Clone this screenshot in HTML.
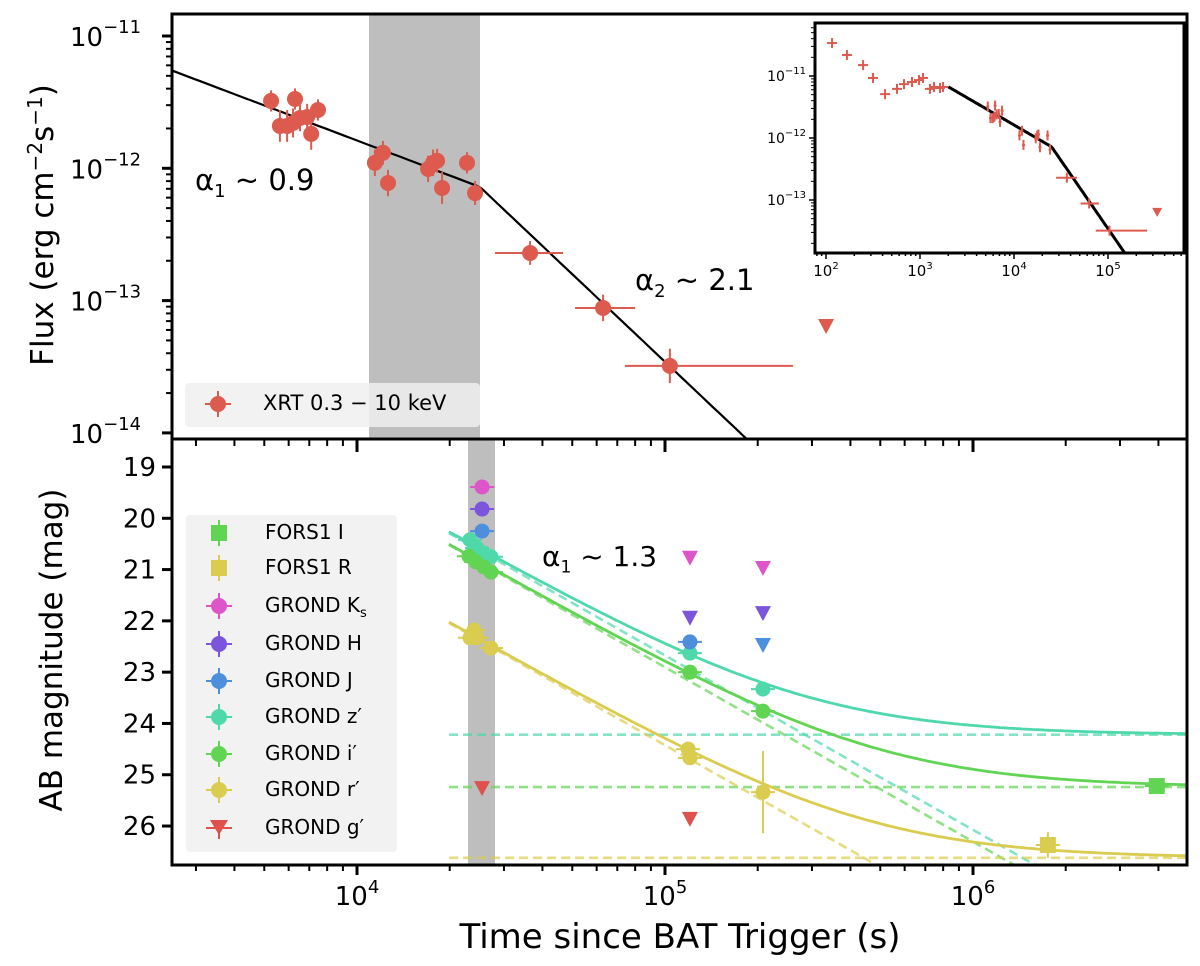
<!DOCTYPE html>
<html><head><meta charset="utf-8"><style>
html,body{margin:0;padding:0;background:#fff;width:1200px;height:966px;overflow:hidden;position:relative}
svg{display:block;font-family:"DejaVu Sans","Liberation Sans",sans-serif}
#c{position:absolute;left:0;top:0}
.lm{position:absolute;left:0;top:0;width:18px;height:22px}
.lm .h{position:absolute;left:-4px;top:10px;width:26px;height:2px}
.lm .v{position:absolute;left:8px;top:-2px;width:2px;height:26px}
.lm .c{position:absolute;left:1px;top:3px;width:16px;height:16px;border-radius:50%}
.lm .s{position:absolute;left:1px;top:3px;width:16px;height:16px}
</style></head><body>
<svg id="c" width="1200" height="966" viewBox="0 0 1200 966">
<defs>
<clipPath id="cpTop"><rect x="172" y="14" width="1015" height="425"/></clipPath>
<clipPath id="cpBot"><rect x="172" y="440" width="1015" height="425"/></clipPath>
<clipPath id="cpIn"><rect x="815" y="23" width="369" height="230"/></clipPath>
</defs>
</svg>
<script>
// ---- X-ray data (top panel) ----
const xrtTime=[5260,5620,5930,6200,6290,6530,6890,7100,7470,11430,12140,12610,17020,17660,18200,18890,22760,24170];
const xrtFlux=[3.23e-12,2.09e-12,2.09e-12,2.20e-12,3.34e-12,2.40e-12,2.44e-12,1.82e-12,2.76e-12,1.10e-12,1.31e-12,7.74e-13,9.89e-13,1.10e-12,1.14e-12,7.10e-13,1.10e-12,6.50e-13];
const xrtErr=[0.08,0.12,0.12,0.11,0.08,0.1,0.1,0.12,0.08,0.1,0.09,0.1,0.1,0.1,0.09,0.12,0.08,0.09];
const xrtLateTime=[36480,62950,103700];
const xrtLateFlux=[2.29e-13,8.8e-14,3.21e-14];
const xrtLateLo=[28050,51050,74130];
const xrtLateHi=[46670,79980,260600];
const xrtLateErr=[0.09,0.1,0.13];
const xrtUL=[[333400,6.43e-14]];
const earlyTime=[116,167,248,316,425,569,676,822,975,1076,1277,1409,1633,1758];
const earlyFlux=[3.4e-11,2.18e-11,1.5e-11,9.3e-12,5.1e-12,6.2e-12,7.4e-12,8.0e-12,8.6e-12,9.3e-12,6.2e-12,6.65e-12,6.4e-12,6.65e-12];
// broken power law params
const tBreak=25070, fBreak=7.23e-13, alpha1=0.88, alpha2=2.2;
const topTicks=[-11,-12,-13,-14];
// ---- optical data (bottom panel) ----
const colors={Ks:'#dd55c8',H:'#7c55dd',J:'#4d8fdd',z:'#4fd9ab',i:'#62d454',r:'#d9cc4f',g:'#dd524d'};
const ksT=[25470], ksM=[19.39];
const hT=[25470], hM=[19.82];
const jT=[25470,120500], jM=[20.25,22.41];
const zT=[23270,24530,25840,27230,120500,208000], zM=[20.42,20.58,20.68,20.75,22.63,23.33];
const iT=[23100,24350,25840,27230,120500,208000], iM=[20.74,20.85,20.95,21.05,23.0,23.76];
const rT=[23270,23990,24530,27230,118900,120500,208000], rM=[22.33,22.18,22.33,22.53,24.5,24.67,25.34];
const rErr=[0.1,0.12,0.1,0.08,0.12,0.12,0.8];
const forsIT=[3950000], forsIM=[25.22];
const forsRT=[1750000], forsRM=[26.37];
const ulKsT=[120500,208000], ulKsM=[20.77,20.97];
const ulHT=[120500,208000], ulHM=[21.94,21.85];
const ulJT=[208000], ulJM=[22.47];
const ulGT=[25470,120500], ulGM=[25.26,25.86];
const optAlpha=1.36, optT0=19900;
const plZ=20.29, plI=20.52, plR=22.04;
const hostZ=24.22, hostI=25.24, hostR=26.62;
const magTicks=[19,20,21,22,23,24,25,26];

const svg=document.getElementById('c');
const NS='http://www.w3.org/2000/svg';
function el(tag,attrs,parent){const e=document.createElementNS(NS,tag);for(const k in attrs)e.setAttribute(k,attrs[k]);(parent||svg).appendChild(e);return e;}
const L=Math.log10;
const xl=t=>357+(L(t)-4)*308;
const yT=f=>36+(-11-L(f))*132.3;
const yB=m=>467+(m-19)*51.29;
const xi=t=>826+(L(t)-2)*94;
const yi=f=>76+(-11-L(f))*62;
const bpl=t=>t<tBreak?fBreak*Math.pow(t/tBreak,-alpha1):fBreak*Math.pow(t/tBreak,-alpha2);

let s=el('rect',{x:369,y:14,width:111,height:425,fill:'#bebebe'});


s=el('rect',{x:468,y:440,width:27,height:425,fill:'#bebebe'});



const gTop=el('g',{'clip-path':'url(#cpTop)'});


let d='';for(let i=0;i<=200;i++){const lt=3.3+i*(3.4/200);const t=Math.pow(10,lt);const yy=yT(bpl(t));d+=(i?'L':'M')+xl(t).toFixed(1)+' '+yy.toFixed(1);if(yy>445)break;}
let ln=el('path',{d:d,fill:'none',stroke:'#000','stroke-width':2.2},gTop);


const red='#dd5a4e';
function errPt(g,x,y,ylo,yhi,xlo,xhi,r,col,name){
  const grp=el('g',{},g);
  
  
  el('line',{x1:x,x2:x,y1:ylo,y2:yhi,stroke:col,'stroke-width':2},grp);
  if(xlo!==null)el('line',{x1:xlo,x2:xhi,y1:y,y2:y,stroke:col,'stroke-width':2},grp);
  if(r>0)el('circle',{cx:x,cy:y,r:r,fill:col},grp);
}
xrtTime.forEach((t,i)=>{const x=xl(t),y=yT(xrtFlux[i]);const e=xrtErr[i];errPt(gTop,x,y,yT(xrtFlux[i]*Math.pow(10,e)),yT(xrtFlux[i]*Math.pow(10,-e)),null,null,8,red,'xrt-point');});
xrtLateTime.forEach((t,i)=>{const x=xl(t),y=yT(xrtLateFlux[i]);const e=xrtLateErr[i];errPt(gTop,x,y,yT(xrtLateFlux[i]*Math.pow(10,e)),yT(xrtLateFlux[i]*Math.pow(10,-e)),xl(xrtLateLo[i]),xl(xrtLateHi[i]),8,red,'xrt-point');});
xrtUL.forEach(p=>{const x=xl(p[0]),y=yT(p[1]);const tr=el('path',{d:`M${x-8} ${y-7}L${x+8} ${y-7}L${x} ${y+8}Z`,fill:red},gTop);});

const gBot=el('g',{'clip-path':'url(#cpBot)'});


const pl=(m0,t)=>m0+2.5*optAlpha*L(t/optT0);
const comb=(m0,h,t)=>-2.5*L(Math.pow(10,-0.4*pl(m0,t))+Math.pow(10,-0.4*h));
[[plZ,hostZ,colors.z,'z'],[plI,hostI,colors.i,'i'],[plR,hostR,colors.r,'r']].forEach(([m0,h,c,n])=>{
  const x0=xl(optT0);
  let hl=el('line',{x1:x0,x2:1187,y1:yB(h),y2:yB(h),stroke:c,'stroke-width':2.6,'stroke-dasharray':'9 5',opacity:0.7},gBot);
  
  
  let dp='',ds='',stopP=false;
  for(let i=0;i<=200;i++){const lt=L(optT0)+i*(6.75-L(optT0))/200;const t=Math.pow(10,lt);
    if(!stopP){const yp=yB(pl(m0,t));dp+=(i?'L':'M')+xl(t).toFixed(1)+' '+yp.toFixed(1);if(yp>870)stopP=true;}
    ds+=(i?'L':'M')+xl(t).toFixed(1)+' '+yB(comb(m0,h,t)).toFixed(1);}
  let p1=el('path',{d:dp,fill:'none',stroke:c,'stroke-width':2.6,'stroke-dasharray':'9 5',opacity:0.7},gBot);
  
  
  let p2=el('path',{d:ds,fill:'none',stroke:c,'stroke-width':2.8},gBot);
  
  
});
function tri(g,x,y,c,name){const t=el('path',{d:`M${x-8} ${y-7}L${x+8} ${y-7}L${x} ${y+8}Z`,fill:c},g);}
function pts(T,M,c,name,err,sq){T.forEach((t,i)=>{const x=xl(t),y=yB(M[i]);const e=err?err[i]:0.08;
  const grp=el('g',{},gBot);
  el('line',{x1:x,x2:x,y1:yB(M[i]-e),y2:yB(M[i]+e),stroke:c,'stroke-width':2},grp);
  el('line',{x1:x-12,x2:x+12,y1:y,y2:y,stroke:c,'stroke-width':2},grp);
  if(sq)el('rect',{x:x-8,y:y-8,width:16,height:16,fill:c},grp);else el('circle',{cx:x,cy:y,r:7.5,fill:c},grp);});}
pts(zT,zM,colors.z,'z-point');
pts(iT,iM,colors.i,'i-point');
pts(rT,rM,colors.r,'r-point',rErr);
pts(jT,jM,colors.J,'j-point');
pts(hT,hM,colors.H,'h-point');
pts(ksT,ksM,colors.Ks,'ks-point');
pts(forsIT,forsIM,colors.i,'fors-i-point',[0.1],true);
pts(forsRT,forsRM,colors.r,'fors-r-point',[0.25],true);
ulKsT.forEach((t,i)=>tri(gBot,xl(t),yB(ulKsM[i]),colors.Ks,'ks-upper-limit'));
ulHT.forEach((t,i)=>tri(gBot,xl(t),yB(ulHM[i]),colors.H,'h-upper-limit'));
ulJT.forEach((t,i)=>tri(gBot,xl(t),yB(ulJM[i]),colors.J,'j-upper-limit'));
ulGT.forEach((t,i)=>tri(gBot,xl(t),yB(ulGM[i]),colors.g,'g-upper-limit'));

let f=el('rect',{x:172,y:14,width:1015,height:425,fill:'none',stroke:'#000','stroke-width':3});

f=el('rect',{x:172,y:439,width:1015,height:426,fill:'none',stroke:'#000','stroke-width':3});


for(let dec=3;dec<=6;dec++)for(let k=1;k<=9;k++){const t=k*Math.pow(10,dec);const x=xl(t);if(x<173||x>1186)continue;const maj=k===1;
  const a=el('line',{x1:x,x2:x,y1:865,y2:865+(maj?10:6),stroke:'#000','stroke-width':maj?3:2});
  const b=el('line',{x1:x,x2:x,y1:440,y2:440+(maj?12:6),stroke:'#000','stroke-width':maj?3:2});
  if(maj){const tx=el('text',{x:x,y:905,'font-size':26,'text-anchor':'middle'});tx.innerHTML=`10<tspan dy="-12" font-size="18">${dec}</tspan>`;}}
for(let dec=-15;dec<=-11;dec++)for(let k=1;k<=9;k++){const v=k*Math.pow(10,dec);const y=yT(v);if(y<15||y>438)continue;const maj=k===1;
  const a=el('line',{x1:172,x2:172-(maj?10:6),y1:y,y2:y,stroke:'#000','stroke-width':maj?3:2});}
topTicks.forEach(p=>{const y=yT(Math.pow(10,p));const tx=el('text',{x:70,y:y+10,'font-size':26});tx.innerHTML=`10<tspan dy="-13" font-size="18">${p<0?'−':''}${Math.abs(p)}</tspan>`;});
magTicks.forEach(m=>{const y=yB(m);const a=el('line',{x1:172,x2:162,y1:y,y2:y,stroke:'#000','stroke-width':3});
  const tx=el('text',{x:156,y:y+9,'font-size':26,'text-anchor':'end'});tx.textContent=m;});

const gIn=el('g',{});
el('rect',{x:815,y:23,width:369,height:230,fill:'#fff',stroke:'#000','stroke-width':3},gIn);
const gInC=el('g',{'clip-path':'url(#cpIn)'},gIn);
let di='';for(let i=0;i<=150;i++){const lt=L(2000)+i*(5.4-L(2000))/150;const t=Math.pow(10,lt);const yy=yi(bpl(t));di+=(i?'L':'M')+xi(t).toFixed(1)+' '+yy.toFixed(1);if(yy>258)break;}
let il=el('path',{d:di,fill:'none',stroke:'#000','stroke-width':3},gInC);
function inPt(t,fv,dx,dy){const x=xi(t),y=yi(fv);const g=el('g',{},gInC);
  el('line',{x1:x-dx,x2:x+dx,y1:y,y2:y,stroke:red,'stroke-width':2},g);el('line',{x1:x,x2:x,y1:y-dy,y2:y+dy,stroke:red,'stroke-width':2},g);}
earlyTime.forEach((t,i)=>inPt(t,earlyFlux[i],5,5));
xrtTime.forEach((t,i)=>inPt(t,xrtFlux[i],1.5,5));
xrtLateTime.forEach((t,i)=>{const x=xi(t),y=yi(xrtLateFlux[i]);const g=el('g',{},gInC);
  el('line',{x1:xi(xrtLateLo[i]),x2:xi(xrtLateHi[i]),y1:y,y2:y,stroke:red,'stroke-width':2},g);el('line',{x1:x,x2:x,y1:y-5,y2:y+5,stroke:red,'stroke-width':2},g);});
xrtUL.forEach(p=>{const x=xi(p[0]),y=yi(p[1]);const t=el('path',{d:`M${x-5} ${y-4}L${x+5} ${y-4}L${x} ${y+5}Z`,fill:red},gInC);});
for(let dec=1;dec<=5;dec++)for(let k=1;k<=9;k++){const t=k*Math.pow(10,dec);const x=xi(t);if(x<816||x>1183)continue;const maj=k===1;
  el('line',{x1:x,x2:x,y1:253,y2:253+(maj?6:3),stroke:'#000','stroke-width':1.5},gIn);
  if(maj){const tx=el('text',{x:x,y:276,'font-size':15,'text-anchor':'middle'},gIn);tx.innerHTML=`10<tspan dy="-7" font-size="10">${dec}</tspan>`;}}
[-11,-12,-13].forEach(p=>{const y=yi(Math.pow(10,p));el('line',{x1:815,x2:809,y1:y,y2:y,stroke:'#000','stroke-width':1.5},gIn);
  const tx=el('text',{x:806,y:y+5,'font-size':14,'text-anchor':'end'},gIn);tx.innerHTML=`10<tspan dy="-7" font-size="10">−${-p}</tspan>`;});
for(let dec=-14;dec<=-11;dec++)for(let k=2;k<=9;k++){const y=yi(k*Math.pow(10,dec));if(y<24||y>252)continue;el('line',{x1:815,x2:811,y1:y,y2:y,stroke:'#000','stroke-width':1},gIn);}
</script>
<div style="position:absolute;left:0;top:0;width:1200px;height:966px;overflow:hidden;pointer-events:none;font-family:'DejaVu Sans','Liberation Sans',sans-serif">
  <div style="position:absolute;left:185px;top:383px;width:295px;height:44px;background:rgba(240,240,240,0.85);border-radius:4px"></div>
  <div style="position:absolute;left:210px;top:396px;width:16px;height:16px;border-radius:50%;background:#dd5a4e"></div>
  <div style="position:absolute;left:205px;top:403px;width:26px;height:2px;background:#dd5a4e"></div>
  <div style="position:absolute;left:217px;top:391px;width:2px;height:26px;background:#dd5a4e"></div>
  <div style="position:absolute;left:263px;top:391px;font-size:21px">XRT 0.3 − 10 keV</div>
  <div style="position:absolute;left:195px;top:163px;font-size:29px">α<sub style="font-size:18px">1</sub> ~ 0.9</div>
  <div style="position:absolute;left:635px;top:263px;font-size:29px">α<sub style="font-size:18px">2</sub> ~ 2.1</div>
  <div style="position:absolute;left:542px;top:540px;font-size:28px">α<sub style="font-size:17px">1</sub> ~ 1.3</div>
  <div style="position:absolute;left:42px;top:225px;transform:translate(-50%,-50%) rotate(-90deg);white-space:nowrap;font-size:31px">Flux (erg cm<sup style="font-size:20px">−2</sup>s<sup style="font-size:20px">−1</sup>)</div>
  <div style="position:absolute;left:52px;top:650px;transform:translate(-50%,-50%) rotate(-90deg);white-space:nowrap;font-size:31px">AB magnitude (mag)</div>
  <div style="position:absolute;left:680px;top:917px;line-height:40px;transform:translateX(-50%);white-space:nowrap;font-size:34px">Time since BAT Trigger (s)</div>
  <div style="position:absolute;left:186px;top:515px;width:211px;height:337px;background:rgba(240,240,240,0.85);border-radius:4px;font-size:20px">
    <div style="position:absolute;left:24px;top:7px;width:200px;height:22px"><span class="lm"><span class="v" style="background:#62d454"></span><span class="s" style="background:#62d454"></span></span><span style="position:absolute;left:55px;top:-2px">FORS1 I</span></div>
    <div style="position:absolute;left:24px;top:42px;width:200px;height:22px"><span class="lm"><span class="v" style="background:#d9cc4f"></span><span class="s" style="background:#d9cc4f"></span></span><span style="position:absolute;left:55px;top:-2px">FORS1 R</span></div>
    <div style="position:absolute;left:24px;top:80px;width:200px;height:22px"><span class="lm"><span class="h" style="background:#dd55c8"></span><span class="v" style="background:#dd55c8"></span><span class="c" style="background:#dd55c8"></span></span><span style="position:absolute;left:55px;top:-2px">GROND K<sub style="font-size:13px">s</sub></span></div>
    <div style="position:absolute;left:24px;top:118px;width:200px;height:22px"><span class="lm"><span class="h" style="background:#7c55dd"></span><span class="v" style="background:#7c55dd"></span><span class="c" style="background:#7c55dd"></span></span><span style="position:absolute;left:55px;top:-2px">GROND H</span></div>
    <div style="position:absolute;left:24px;top:155px;width:200px;height:22px"><span class="lm"><span class="h" style="background:#4d8fdd"></span><span class="v" style="background:#4d8fdd"></span><span class="c" style="background:#4d8fdd"></span></span><span style="position:absolute;left:55px;top:-2px">GROND J</span></div>
    <div style="position:absolute;left:24px;top:191px;width:200px;height:22px"><span class="lm"><span class="h" style="background:#4fd9ab"></span><span class="v" style="background:#4fd9ab"></span><span class="c" style="background:#4fd9ab"></span></span><span style="position:absolute;left:55px;top:-2px">GROND z′</span></div>
    <div style="position:absolute;left:24px;top:228px;width:200px;height:22px"><span class="lm"><span class="h" style="background:#62d454"></span><span class="v" style="background:#62d454"></span><span class="c" style="background:#62d454"></span></span><span style="position:absolute;left:55px;top:-2px">GROND i′</span></div>
    <div style="position:absolute;left:24px;top:264px;width:200px;height:22px"><span class="lm"><span class="h" style="background:#d9cc4f"></span><span class="v" style="background:#d9cc4f"></span><span class="c" style="background:#d9cc4f"></span></span><span style="position:absolute;left:55px;top:-2px">GROND r′</span></div>
    <div style="position:absolute;left:24px;top:302px;width:200px;height:22px"><span class="lm"><span class="h" style="background:#dd524d"></span><span class="v" style="background:#dd524d;top:4px;height:18px"></span><span style="position:absolute;left:0;top:3px;width:0;height:0;border-left:9px solid transparent;border-right:9px solid transparent;border-top:15px solid #dd524d"></span></span><span style="position:absolute;left:55px;top:-2px">GROND g′</span></div>
  </div>
</div>
</body></html>
